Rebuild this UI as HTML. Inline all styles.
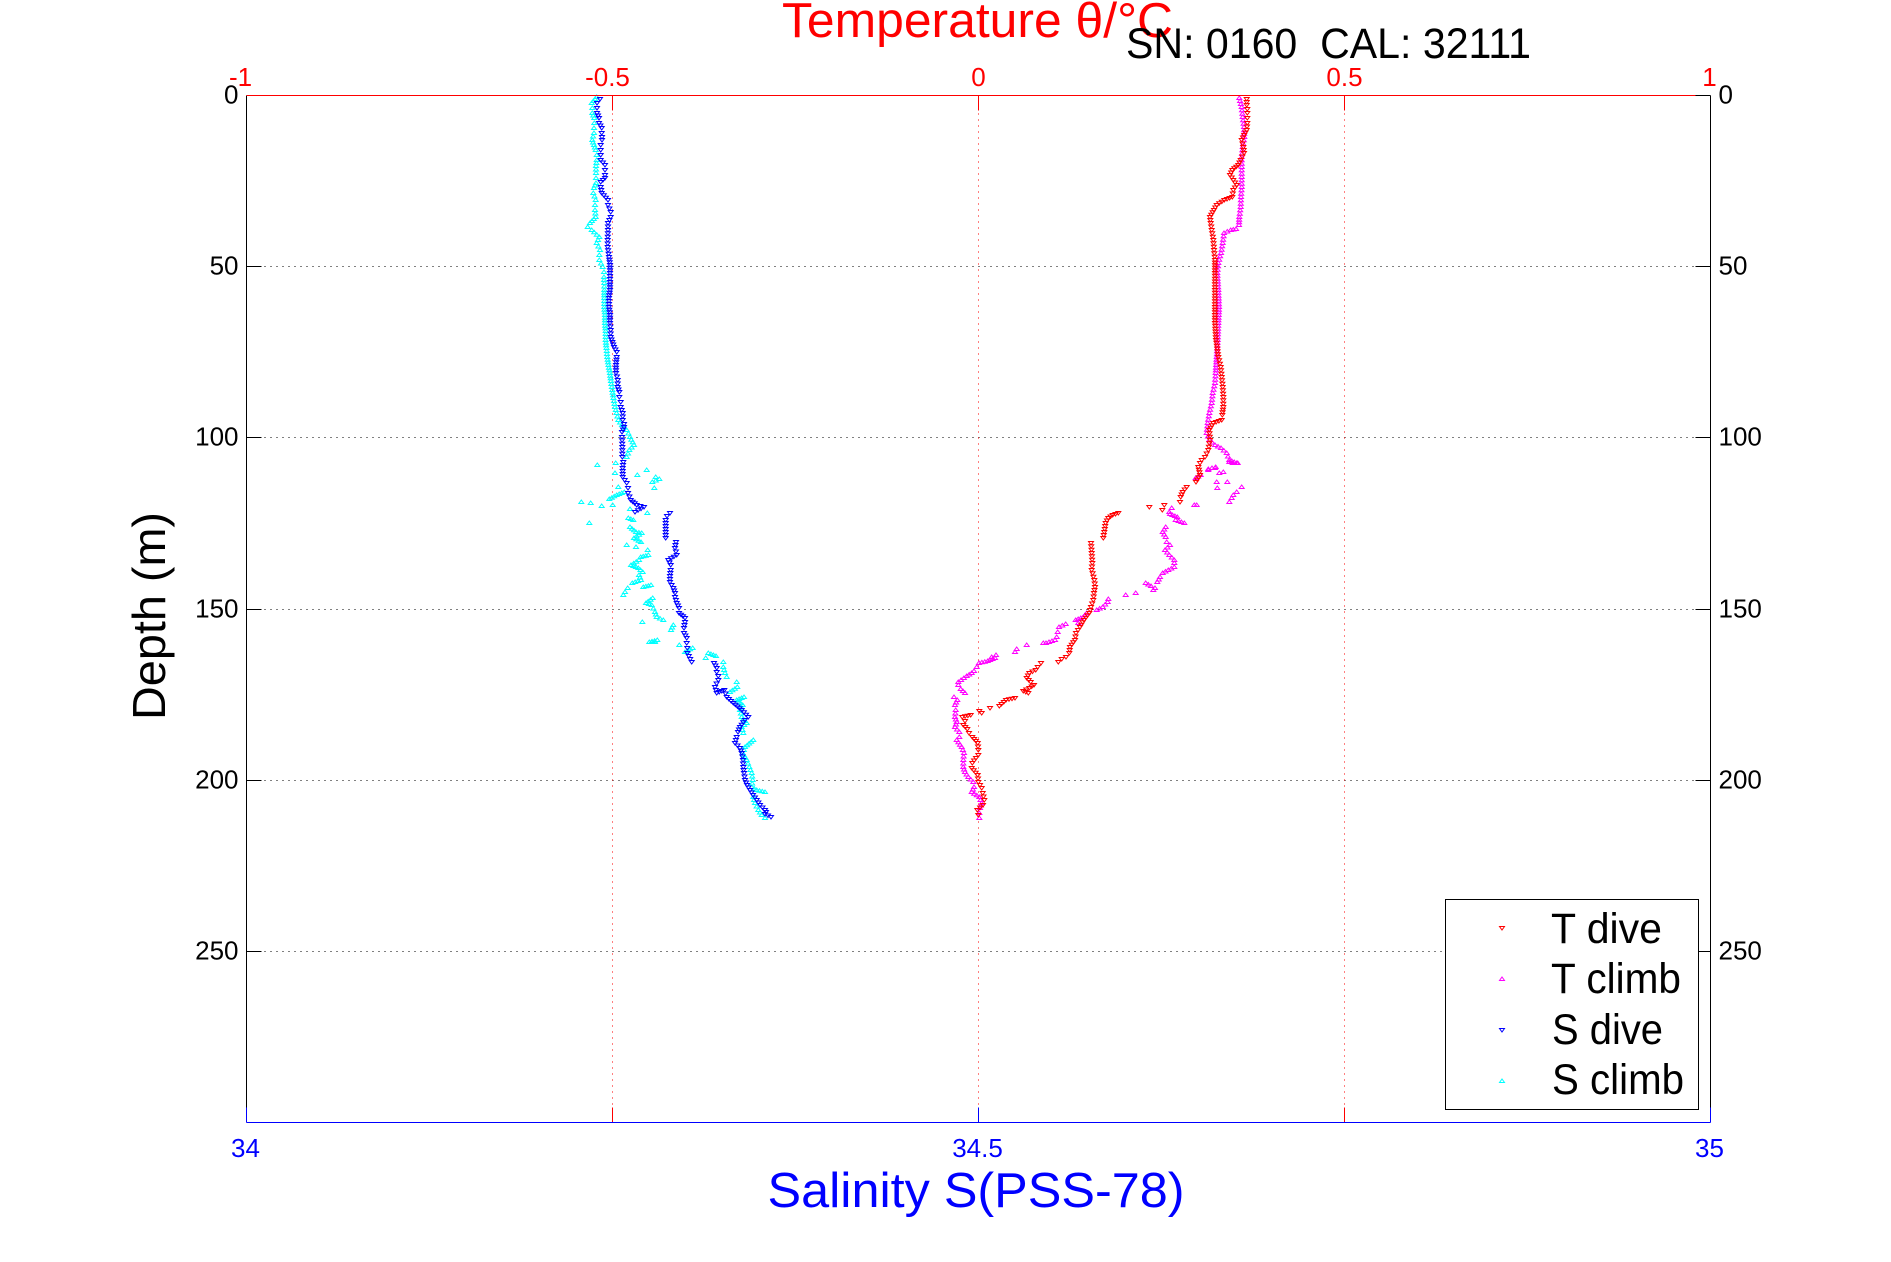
<!DOCTYPE html>
<html>
<head>
<meta charset="utf-8">
<style>
  html, body { margin:0; padding:0; background:#fff; }
  svg { display:block; }
  text { font-family: "Liberation Sans", "DejaVu Sans", sans-serif; }
</style>
</head>
<body>
<svg id="chart" width="1891" height="1262" viewBox="0 0 1891 1262" xmlns="http://www.w3.org/2000/svg">
  <defs>
    <marker id="mTd" markerUnits="userSpaceOnUse" markerWidth="10" markerHeight="10" viewBox="-5 -5 10 10" refX="0" refY="0" overflow="visible">
      <path d="M-2.5,-1.5 H2.5 L0,2 Z" fill="none" stroke="#ff0000" stroke-width="1"/>
    </marker>
    <marker id="mTc" markerUnits="userSpaceOnUse" markerWidth="10" markerHeight="10" viewBox="-5 -5 10 10" refX="0" refY="0" overflow="visible">
      <path d="M-2.5,1.5 H2.5 L0,-2 Z" fill="none" stroke="#ff00ff" stroke-width="1"/>
    </marker>
    <marker id="mSd" markerUnits="userSpaceOnUse" markerWidth="10" markerHeight="10" viewBox="-5 -5 10 10" refX="0" refY="0" overflow="visible">
      <path d="M-2.5,-1.5 H2.5 L0,2 Z" fill="none" stroke="#0000ff" stroke-width="1"/>
    </marker>
    <marker id="mSc" markerUnits="userSpaceOnUse" markerWidth="10" markerHeight="10" viewBox="-5 -5 10 10" refX="0" refY="0" overflow="visible">
      <path d="M-2.5,1.5 H2.5 L0,-2 Z" fill="none" stroke="#00ffff" stroke-width="1"/>
    </marker>
  </defs>

  <rect x="0" y="0" width="1891" height="1262" fill="#fff"/>

  <!-- grid -->
  <g shape-rendering="crispEdges" stroke-width="1" fill="none">
    <g stroke="#000" stroke-dasharray="1,5">
      <line x1="246.5" y1="266.5" x2="1710.5" y2="266.5"/>
      <line x1="246.5" y1="437.5" x2="1710.5" y2="437.5"/>
      <line x1="246.5" y1="609.5" x2="1710.5" y2="609.5"/>
      <line x1="246.5" y1="780.5" x2="1710.5" y2="780.5"/>
      <line x1="246.5" y1="951.5" x2="1710.5" y2="951.5"/>
    </g>
    <g stroke="#ff0000" stroke-dasharray="1,5">
      <line x1="612.5" y1="95.5" x2="612.5" y2="1122.5"/>
      <line x1="978.5" y1="95.5" x2="978.5" y2="1122.5"/>
      <line x1="1344.5" y1="95.5" x2="1344.5" y2="1122.5"/>
    </g>
  </g>

  <!-- data -->
  <polyline class="ser" fill="none" stroke="none" marker-start="url(#mSc)" marker-mid="url(#mSc)" marker-end="url(#mSc)" points="596.7,97 591.7,103 592.3,108 592.3,113 594.3,118 594.3,123 594,128 594,133 592.3,140 594,145 595.7,150 596.7,155 596.7,160 596,166 596,173 596,178 596,183 594,188 593.3,193 595.7,200 595,205 595,210 595.7,217 590,223 587.7,227 591.7,230 599.3,237 596.7,243 600,250 599.3,255 599.3,260 602.7,267 604,272 604,277 604.3,283 604.3,290 604.3,298 604.3,307 605,315 605,323 605.7,331 605.7,340 606.5,348 607.3,357 608.5,365 610,373 611,381 612.3,390 613.5,398 615,407 616.5,413 618.3,420 622,425 626.7,430 630,437 634,445 629.3,450 626.7,457 615.7,463 597.3,465 646.7,470 615,473 637.3,475 655.7,477 659.3,479 652.3,482 618.3,487 654.3,488 624.3,492 616.7,495 609.3,499 581.3,502 590.7,503 612.7,505 601.7,506 630,509 647.3,513 628.3,518 633.3,520 589.3,523 630,527 636,532 641.7,533 634,538 641,542 626.7,545 636,547 647.7,550 648.3,555 640.7,557 639,560 631,565 638.3,568 642.7,572 639,575 641,580 632.3,583 651,585 643.3,587 627.7,588 625,592 623.3,595 652.7,598 646,603 651.7,605 655,612 656.7,617 663.3,620 642.3,622 673.3,625 671,630 657.3,640 649.3,642 655,642 679.3,645 692.7,648 685,652 708.3,653 716,656 705.7,658 723.3,662 723.3,667 725,673 726.7,677 736.7,682 737.3,687 730,692 744,697 736.7,700 742.7,705 740,710 741.7,717 746.7,723 741.7,727 743.3,733 753.3,740 745,747 742.7,753 746.7,760 749.3,767 751.7,773 752.7,780 751.7,787 756.7,790 765,792 753.3,797 755,803 758.3,810 761.7,815 765,818"/>
  <polyline class="ser" fill="none" stroke="none" marker-start="url(#mSd)" marker-mid="url(#mSd)" marker-end="url(#mSd)" points="600,99 597,103 597,108 597,113 599,118 599,123 601.7,128 601.7,133 602,137 602,140 600.7,145 600.7,150 600.7,155 600.7,160 605,165 605,170 605,175 605,178 600.7,182 600.7,187 601.7,193 608,200 608,205 610.7,212 610.7,217 608,223 608,230 607.7,240 607.7,247 609,257 610,265 610,273 610,282 610,290 609,298 609,307 610,315 610,323 610.7,330 610.7,337 614,347 616.7,352 616.7,357 616,365 616,373 617.7,380 617.7,387 619.3,392 619.3,397 620.7,402 620.7,407 622.7,413 622.7,420 624,424 624,427 622,432 622,437 622.3,447 622.3,457 623.3,462 622.7,468 622.7,477 626.7,483 628,488 628,493 630.7,500 636.7,505 644,507 635,512 670,513 667,516 665.7,520 665.7,526 665.7,532 665.7,538 676,542 675,548 676.7,555 668.3,560 670.7,565 670.7,570 670,576 670,582 673.3,588 675,593 675,597 676.7,603 679,608 679,613 685,618 685,622 684,628 684,633 686.7,638 686.7,643 687.3,648 687.3,653 691.7,662 714,663 716.7,668 716.7,672 718.3,676 718.3,680 715,687 716.7,693 724.3,690 726.7,697 733.3,703 741.7,710 748.3,717 745,720 740,727 738,732 736.7,737 735,743 740,748 741.7,753 743,760 743.3,767 744,773 745,780 747,785 750,790 753,795 756.7,800 760,805 765,810 766,812 765,814 771,817"/>
  <polyline class="ser" fill="none" stroke="none" marker-start="url(#mTc)" marker-mid="url(#mTc)" marker-end="url(#mTc)" points="1239.3,98 1241.7,107 1242.7,117 1244,127 1244.3,137 1242.7,147 1241.7,157 1241.7,167 1241.7,177 1241.7,187 1241,197 1240.7,207 1239.3,217 1239,225 1236,229 1230.7,230 1224,233 1222.7,243 1221,253 1218.3,263 1217.3,273 1218.3,290 1219,307 1218.3,323 1217.7,340 1216.7,357 1215.7,373 1215,383 1212.7,393 1211.7,403 1209.3,413 1207.7,423 1206.7,433 1209.3,440 1215,445 1221,448 1226.7,453 1229.3,460 1236.7,463 1237.7,463 1232.7,463 1229.3,462 1215,468 1215.7,467 1208.3,469 1208.3,470 1223.3,472 1219.3,473 1200.7,475 1195.7,478 1216.7,482 1227.3,482 1241.7,487 1217.3,488 1236.7,492 1233.3,495 1231.7,498 1229.3,502 1196.7,505 1194.3,505 1171.7,508 1169.3,512 1170,514 1177.3,517 1175.7,520 1184.3,523 1165.7,527 1162.7,532 1165.7,537 1166.7,542 1170,545 1165,550 1169.3,555 1174.3,560 1174.3,563 1174.3,567 1168.3,570 1162.7,573 1160,577 1157.3,582 1145.7,583 1151,586 1155,588 1153.3,590 1135.7,593 1125.7,595 1108.3,599 1107.7,602 1102.7,607 1096.7,610 1086.7,613 1083.3,617 1075.7,620 1078.3,623 1065.7,624 1059,627 1057.7,632 1056.7,637 1055,640 1046,643 1043.3,643 1026.7,645 1016.7,649 1015,652 996,655 991.7,657 995,658 987.7,661 979,663 976.7,667 974,671 971.7,673 966.7,676 958.3,682 958.3,685 960.7,689 965,693 954,697 957.3,700 955,705 955.7,710 955,717 956.7,722 955,727 959.3,732 959.3,737 956.7,740 961.7,747 964,753 963.3,760 963.3,767 965,772 968.3,777 973.3,782 974,787 971.7,792 979.3,797 981.7,803 980,808 979.3,813 979.3,818"/>
  <polyline class="ser" fill="none" stroke="none" marker-start="url(#mTd)" marker-mid="url(#mTd)" marker-end="url(#mTd)" points="1246.7,99 1246.7,102 1246.7,105 1247.3,109 1247.3,113 1247.3,118 1247.3,123 1246.7,130 1241.7,140 1243.3,147 1244,153 1240.7,160 1238.3,165 1232.3,170 1230,175 1233.3,180 1236.7,185 1233.3,190 1232.3,197 1224.3,200 1216.7,205 1214,210 1210,217 1210.7,223 1211.7,230 1213.3,240 1214,250 1215,260 1215,273 1215,290 1215,307 1215,323 1216,340 1218.3,357 1220.7,367 1221.7,377 1222.7,387 1223.3,397 1223.3,407 1222.3,415 1221.7,420 1213.3,423 1209.3,430 1210,440 1208.3,450 1205,457 1201.7,460 1200,463 1198.3,467 1200,475 1196,482 1186.7,487 1182.7,492 1180.7,497 1180,502 1164.3,505 1149.3,507 1162.3,510 1118.3,513 1112.7,515 1108.3,518 1105.7,523 1104.3,532 1103.3,538 1091,543 1091.7,553 1092.3,563 1091.7,570 1094.3,580 1095,587 1094,593 1093.3,600 1091,607 1089.3,613 1084,620 1080,627 1076,633 1075,640 1070,647 1069.3,653 1066,657 1061.7,659 1058.3,662 1041,663 1037.7,667 1035.7,670 1029.3,673 1026.7,678 1030.7,682 1034,685 1029.3,688 1023.3,691 1028.3,693 1015,698 1006,700 999.3,706 990,708 979.3,711 981.7,713 970.7,715 962.3,717 965,721 963.3,725 967.3,729 969,733 972.3,737 977.7,743 978.3,750 978.3,755 976,758 972.3,763 971.7,768 977.7,775 978.3,782 981.7,788 982.7,793 984.3,800 983,805 977.3,810 978.3,815"/>

  <!-- axes box and ticks -->
  <g shape-rendering="crispEdges" stroke-width="1" fill="none">
    <line x1="246.5" y1="95.5" x2="246.5" y2="1122.5" stroke="#000"/>
    <line x1="1710.5" y1="95.5" x2="1710.5" y2="1122.5" stroke="#000"/>
    <g stroke="#000">
      <line x1="246.5" y1="95.5" x2="261.5" y2="95.5"/>
      <line x1="246.5" y1="266.5" x2="261.5" y2="266.5"/>
      <line x1="246.5" y1="437.5" x2="261.5" y2="437.5"/>
      <line x1="246.5" y1="609.5" x2="261.5" y2="609.5"/>
      <line x1="246.5" y1="780.5" x2="261.5" y2="780.5"/>
      <line x1="246.5" y1="951.5" x2="261.5" y2="951.5"/>
      <line x1="246.5" y1="1122.5" x2="261.5" y2="1122.5"/>
      <line x1="1695.5" y1="95.5" x2="1710.5" y2="95.5"/>
      <line x1="1695.5" y1="266.5" x2="1710.5" y2="266.5"/>
      <line x1="1695.5" y1="437.5" x2="1710.5" y2="437.5"/>
      <line x1="1695.5" y1="609.5" x2="1710.5" y2="609.5"/>
      <line x1="1695.5" y1="780.5" x2="1710.5" y2="780.5"/>
      <line x1="1695.5" y1="951.5" x2="1710.5" y2="951.5"/>
      <line x1="1695.5" y1="1122.5" x2="1710.5" y2="1122.5"/>
    </g>
    <line x1="246.5" y1="95.5" x2="1695.5" y2="95.5" stroke="#ff0000"/>
    <g stroke="#ff0000">
      <line x1="612.5" y1="95.5" x2="612.5" y2="110.5"/>
      <line x1="978.5" y1="95.5" x2="978.5" y2="110.5"/>
      <line x1="1344.5" y1="95.5" x2="1344.5" y2="110.5"/>
      <line x1="612.5" y1="1107.5" x2="612.5" y2="1122.5"/>
      <line x1="978.5" y1="1107.5" x2="978.5" y2="1122.5"/>
      <line x1="1344.5" y1="1107.5" x2="1344.5" y2="1122.5"/>
    </g>
    <line x1="246.5" y1="1122.5" x2="1710.5" y2="1122.5" stroke="#0000ff"/>
    <g stroke="#0000ff">
      <line x1="246.5" y1="1107.5" x2="246.5" y2="1122.5"/>
      <line x1="978.5" y1="1107.5" x2="978.5" y2="1122.5"/>
      <line x1="1710.5" y1="1107.5" x2="1710.5" y2="1122.5"/>
    </g>
  </g>

  <!-- tick labels -->
  <g font-size="26" fill="#ff0000" text-anchor="middle">
    <text x="240.5" y="86">-1</text>
    <text x="607.5" y="86">-0.5</text>
    <text x="978.5" y="86">0</text>
    <text x="1344.5" y="86">0.5</text>
    <text x="1709.5" y="86">1</text>
  </g>
  <g font-size="26" fill="#000" text-anchor="end">
    <text x="238.5" y="103.5">0</text>
    <text x="238.5" y="274.5">50</text>
    <text x="238.5" y="445.5">100</text>
    <text x="238.5" y="617.5">150</text>
    <text x="238.5" y="788.5">200</text>
    <text x="238.5" y="959.5">250</text>
  </g>
  <g font-size="26" fill="#000" text-anchor="start">
    <text x="1718.5" y="103.5">0</text>
    <text x="1718.5" y="274.5">50</text>
    <text x="1718.5" y="445.5">100</text>
    <text x="1718.5" y="617.5">150</text>
    <text x="1718.5" y="788.5">200</text>
    <text x="1718.5" y="959.5">250</text>
  </g>
  <g font-size="26" fill="#0000ff" text-anchor="middle">
    <text x="245.5" y="1157">34</text>
    <text x="977.5" y="1157">34.5</text>
    <text x="1709.5" y="1157">35</text>
  </g>

  <!-- titles -->
  <text x="782" y="37" font-size="49" fill="#ff0000" textLength="391" lengthAdjust="spacingAndGlyphs">Temperature θ/°C</text>
  <text x="1126" y="58" font-size="43" fill="#000" style="white-space:pre" textLength="405" lengthAdjust="spacingAndGlyphs">SN: 0160  CAL: 32111</text>
  <text x="976" y="1207" font-size="49" fill="#0000ff" text-anchor="middle" textLength="417" lengthAdjust="spacingAndGlyphs">Salinity S(PSS-78)</text>
  <text x="165" y="616" font-size="46" fill="#000" text-anchor="middle" transform="rotate(-90 165 616)" textLength="208" lengthAdjust="spacingAndGlyphs">Depth (m)</text>

  <!-- legend -->
  <rect x="1445.5" y="899.5" width="253" height="210" fill="#fff" stroke="#000" stroke-width="1" shape-rendering="crispEdges"/>
  <path d="M1499.5,926.5 H1504.5 L1502,930 Z" fill="none" stroke="#ff0000" stroke-width="1"/>
  <path d="M1499.5,980.5 H1504.5 L1502,977 Z" fill="none" stroke="#ff00ff" stroke-width="1"/>
  <path d="M1499.5,1028.5 H1504.5 L1502,1032 Z" fill="none" stroke="#0000ff" stroke-width="1"/>
  <path d="M1499.5,1082.5 H1504.5 L1502,1079 Z" fill="none" stroke="#00ffff" stroke-width="1"/>
  <g font-size="43" fill="#000">
    <text x="1551" y="943" textLength="111" lengthAdjust="spacingAndGlyphs">T dive</text>
    <text x="1551" y="993" textLength="130" lengthAdjust="spacingAndGlyphs">T climb</text>
    <text x="1552" y="1044" textLength="111" lengthAdjust="spacingAndGlyphs">S dive</text>
    <text x="1552" y="1094" textLength="132" lengthAdjust="spacingAndGlyphs">S climb</text>
  </g>
</svg>
<script>
(function(){
  var pls = document.querySelectorAll('polyline.ser');
  for (var k=0;k<pls.length;k++){
    var pl = pls[k];
    var raw = pl.getAttribute('points').trim().split(/\s+/).map(function(s){var a=s.split(',');return [parseFloat(a[0]),parseFloat(a[1])];});
    var out = [];
    for (var i=0;i<raw.length;i++){
      var p = raw[i];
      out.push(p);
      if (i+1<raw.length){
        var q = raw[i+1];
        var dx=q[0]-p[0], dy=q[1]-p[1];
        var d=Math.sqrt(dx*dx+dy*dy);
        if (Math.abs(dx)<=9 && Math.abs(dy)<=20 && d>3){
          var n=Math.floor(d/2.6);
          for (var j=1;j<n;j++){
            out.push([p[0]+dx*j/n, p[1]+dy*j/n]);
          }
        }
      }
    }
    pl.setAttribute('points', out.map(function(p){return p[0].toFixed(1)+','+p[1].toFixed(1);}).join(' '));
  }
})();
</script>
</body>
</html>
